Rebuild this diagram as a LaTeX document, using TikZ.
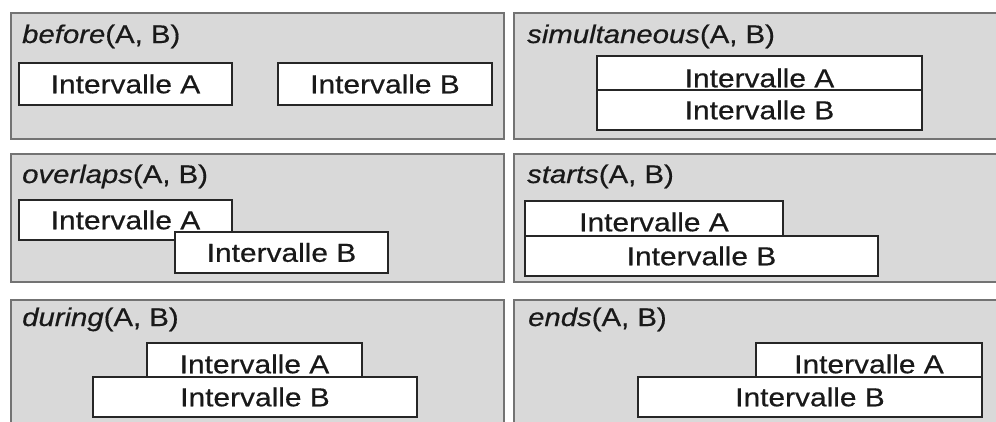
\documentclass[tikz,border=0pt]{standalone}
\usepackage{fontspec}
\setmainfont{Liberation Sans}[FakeStretch=1.15, FakeBold=0.5]
\begin{document}
\begin{tikzpicture}[x=1pt,y=-1pt,
  panel/.style={draw=black!55, line width=1.8pt, fill=black!15, rectangle, inner sep=0pt, anchor=north west},
  ptitle/.style={anchor=base west, inner sep=0pt, text=black!90, font=\fontsize{25.5}{30}\selectfont},
  ibox/.style={draw=black!85, line width=2.4pt, fill=white, rectangle, inner sep=0pt, text=black!90, font=\fontsize{26}{30}\selectfont}]
\path[use as bounding box, clip] (0,0) rectangle (996,421);
\fill[white] (0,0) rectangle (996,421);
% panels
\node[panel, minimum width=493pt, minimum height=126pt] (p1) at (10,12) {};
\node[panel, minimum width=500pt, minimum height=126pt] (p2) at (513,12) {};
\node[panel, minimum width=493pt, minimum height=128pt] (p3) at (10,153) {};
\node[panel, minimum width=500pt, minimum height=128pt] (p4) at (513,153) {};
\node[panel, minimum width=493pt, minimum height=140pt] (p5) at (10,299) {};
\node[panel, minimum width=500pt, minimum height=140pt] (p6) at (513,299) {};
% titles
\node[ptitle] (t1) at (22,43) {\textit{before}(A, B)};
\node[ptitle] (t2) at (527,43) {\textit{simultaneous}(A, B)};
\node[ptitle] (t3) at (22,183) {\textit{overlaps}(A, B)};
\node[ptitle] (t4) at (527,183) {\textit{starts}(A, B)};
\node[ptitle] (t5) at (22,326) {\textit{during}(A, B)};
\node[ptitle] (t6) at (528,326) {\textit{ends}(A, B)};
% before
\node[ibox, minimum width=213pt, minimum height=42pt] (bA) at (125.5,84) {Intervalle A};
\node[ibox, minimum width=214pt, minimum height=42pt] (bB) at (385,84) {Intervalle B};
% simultaneous
\node[ibox, minimum width=325pt, minimum height=44pt] (sA) at (759.5,78) {Intervalle A};
\node[ibox, minimum width=325pt, minimum height=40pt] (sB) at (759.5,110) {Intervalle B};
% overlaps
\node[ibox, minimum width=213pt, minimum height=40pt] (oA) at (125.5,220) {Intervalle A};
\node[ibox, minimum width=213pt, minimum height=41pt] (oB) at (281.5,252.5) {Intervalle B};
% starts
\node[ibox, minimum width=258pt, minimum height=42pt] (stA) at (654,222) {Intervalle A};
\node[ibox, minimum width=353pt, minimum height=40pt] (stB) at (701.5,256) {Intervalle B};
% during
\node[ibox, minimum width=215pt, minimum height=42pt] (dA) at (254.5,364) {Intervalle A};
\node[ibox, minimum width=324pt, minimum height=40pt] (dB) at (255,397) {Intervalle B};
% ends
\node[ibox, minimum width=226pt, minimum height=42pt] (eA) at (869,364) {Intervalle A};
\node[ibox, minimum width=344pt, minimum height=40pt] (eB) at (810,397) {Intervalle B};
\end{tikzpicture}
\end{document}
